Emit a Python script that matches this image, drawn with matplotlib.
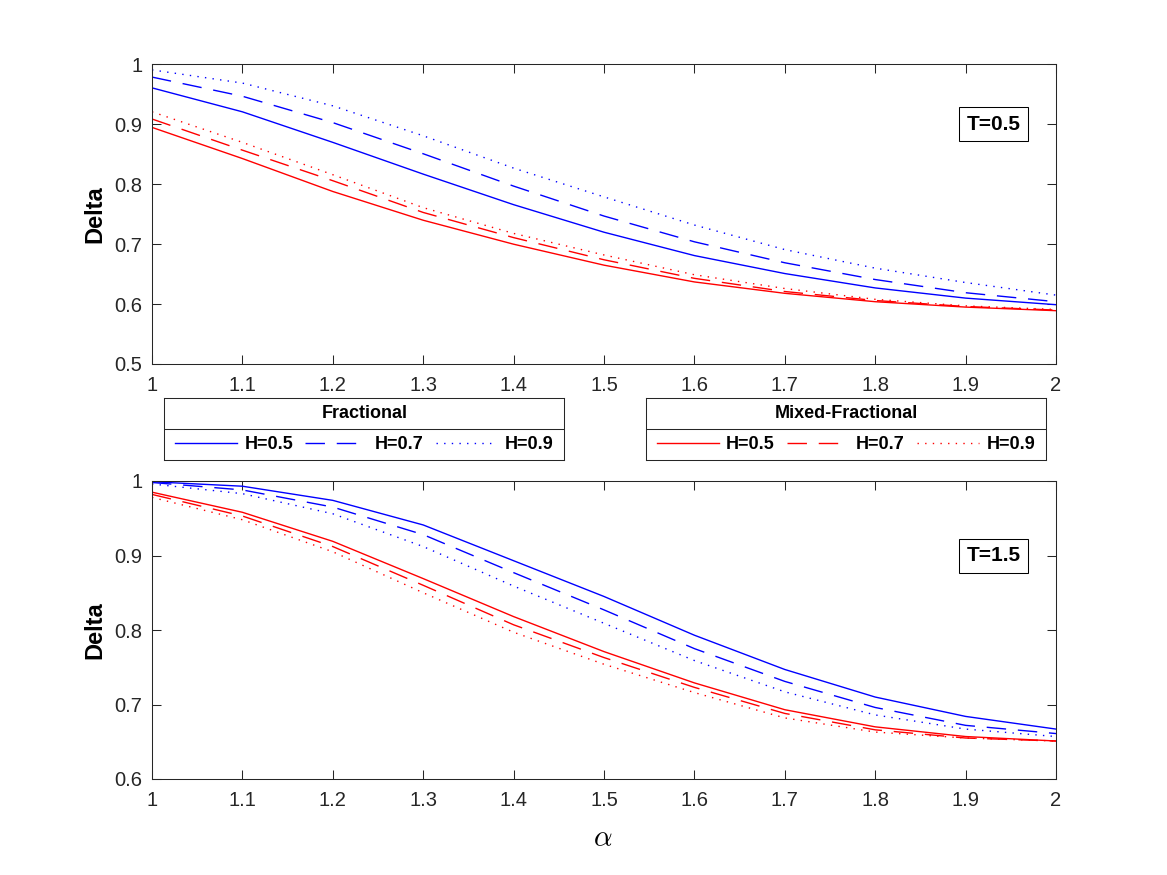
import numpy as np
import matplotlib
matplotlib.use("Agg")
import matplotlib.pyplot as plt
from matplotlib.lines import Line2D

plt.rcParams['font.family'] = ['Liberation Sans', 'DejaVu Sans']
plt.rcParams['mathtext.fontset'] = 'cm'

# ---------------- data ----------------
alpha = [1.0, 1.1, 1.2, 1.3, 1.4, 1.5, 1.6, 1.7, 1.8, 1.9, 2.0]

# T = 0.5
frac_T05_H05 = [0.961, 0.921, 0.870, 0.817, 0.766, 0.720, 0.681, 0.651, 0.627, 0.610, 0.599]
frac_T05_H07 = [0.979, 0.947, 0.903, 0.851, 0.797, 0.747, 0.704, 0.669, 0.641, 0.619, 0.604]
frac_T05_H09 = [0.991, 0.969, 0.931, 0.881, 0.827, 0.779, 0.732, 0.691, 0.660, 0.636, 0.615]
mixed_T05_H05 = [0.895, 0.843, 0.788, 0.740, 0.700, 0.665, 0.637, 0.618, 0.604, 0.595, 0.589]
mixed_T05_H07 = [0.909, 0.857, 0.806, 0.753, 0.711, 0.674, 0.643, 0.621, 0.606, 0.596, 0.590]
mixed_T05_H09 = [0.921, 0.870, 0.816, 0.761, 0.718, 0.682, 0.649, 0.626, 0.608, 0.597, 0.591]

# T = 1.5
frac_T15_H05 = [0.999, 0.993, 0.974, 0.941, 0.893, 0.845, 0.793, 0.747, 0.710, 0.684, 0.667]
frac_T15_H07 = [0.998, 0.988, 0.965, 0.928, 0.877, 0.827, 0.775, 0.731, 0.696, 0.672, 0.661]
frac_T15_H09 = [0.996, 0.983, 0.956, 0.912, 0.859, 0.809, 0.759, 0.717, 0.686, 0.667, 0.657]
mixed_T15_H05 = [0.985, 0.958, 0.919, 0.869, 0.818, 0.771, 0.729, 0.693, 0.670, 0.657, 0.651]
mixed_T15_H07 = [0.982, 0.953, 0.912, 0.860, 0.807, 0.763, 0.723, 0.688, 0.666, 0.655, 0.651]
mixed_T15_H09 = [0.978, 0.948, 0.905, 0.850, 0.797, 0.754, 0.716, 0.682, 0.663, 0.655, 0.651]

h_labels = ['H=0.5', 'H=0.7', 'H=0.9']
group_titles = ['Fractional', 'Mixed-Fractional']
panel_labels = ['T=0.5', 'T=1.5']
x_ticks = [1.0, 1.1, 1.2, 1.3, 1.4, 1.5, 1.6, 1.7, 1.8, 1.9, 2.0]
x_ticklabels = ['1', '1.1', '1.2', '1.3', '1.4', '1.5', '1.6', '1.7', '1.8', '1.9', '2']
y_ticks_top = [0.5, 0.6, 0.7, 0.8, 0.9, 1.0]
y_ticklabels_top = ['0.5', '0.6', '0.7', '0.8', '0.9', '1']
y_ticks_bot = [0.6, 0.7, 0.8, 0.9, 1.0]
y_ticklabels_bot = ['0.6', '0.7', '0.8', '0.9', '1']

# ---------------- styles ----------------
W, H = 1167, 875
fig = plt.figure(figsize=(W / 100, H / 100), dpi=100)

AX_COL = (0.15, 0.15, 0.15)
styles = ['-', (0, (14, 8.5)), (0, (1.0, 4.5))]
LW = 1.0


def px_axes(l, t, r, b):
    return fig.add_axes([l / W, 1 - b / H, (r - l) / W, (b - t) / H])


def style_axes(ax, yt, ytl, ylim):
    ax.set_xlim(1, 2)
    ax.set_ylim(*ylim)
    ax.set_xticks(x_ticks)
    ax.set_xticklabels(x_ticklabels)
    ax.set_yticks(yt)
    ax.set_yticklabels(ytl)
    ax.tick_params(axis='both', direction='in', length=6.5, width=0.75,
                   colors=AX_COL, labelsize=14.5, top=True, right=True)
    ax.tick_params(axis='x', pad=8.5)
    ax.tick_params(axis='y', pad=7)
    for s in ax.spines.values():
        s.set_color(AX_COL)
        s.set_linewidth(0.75)
    ax.set_ylabel('Delta', fontsize=17, fontweight='bold', va='center')
    ax.yaxis.set_label_coords(-0.063, 0.5)


ax1 = px_axes(152, 64.5, 1056, 364)
ax2 = px_axes(152, 481, 1056, 779)

top_frac = [frac_T05_H05, frac_T05_H07, frac_T05_H09]
top_mix = [mixed_T05_H05, mixed_T05_H07, mixed_T05_H09]
bot_frac = [frac_T15_H05, frac_T15_H07, frac_T15_H09]
bot_mix = [mixed_T15_H05, mixed_T15_H07, mixed_T15_H09]

for i in range(3):
    ax1.plot(alpha, top_frac[i], color='blue', lw=LW, linestyle=styles[i])
    ax1.plot(alpha, top_mix[i], color='red', lw=LW, linestyle=styles[i])
    ax2.plot(alpha, bot_frac[i], color='blue', lw=LW, linestyle=styles[i])
    ax2.plot(alpha, bot_mix[i], color='red', lw=LW, linestyle=styles[i])

style_axes(ax1, y_ticks_top, y_ticklabels_top, (0.5, 1.0))
style_axes(ax2, y_ticks_bot, y_ticklabels_bot, (0.6, 1.0))

bbox_kw = dict(boxstyle='square,pad=0.36', fc='white', ec='black', lw=0.75)
ax1.text(0.931, 0.801, panel_labels[0], transform=ax1.transAxes, ha='center',
         va='center', fontsize=15, fontweight='bold', bbox=bbox_kw)
ax2.text(0.931, 0.75, panel_labels[1], transform=ax2.transAxes, ha='center',
         va='center', fontsize=15, fontweight='bold', bbox=bbox_kw)

fig.text(603 / W, 1 - 838 / H, r'$\alpha$', fontsize=21, ha='center', va='center')


# ---------------- legends ----------------
def legend_box(l, r, title, color):
    lax = px_axes(l, 398, r, 460.5)
    lax.set_xticks([])
    lax.set_yticks([])
    lax.set_xlim(0, 1)
    lax.set_ylim(0, 1)
    for s in lax.spines.values():
        s.set_color(AX_COL)
        s.set_linewidth(0.75)
    lax.axhline(0.505, color=AX_COL, lw=0.75)
    lax.text(0.5, 0.745, title, ha='center', va='center', fontsize=13,
             fontweight='bold', transform=lax.transAxes)
    hs = [Line2D([], [], color=color, lw=LW, linestyle=st) for st in styles]
    lax.legend(hs, h_labels, ncol=3, loc='center', bbox_to_anchor=(0.5, 0.25),
               frameon=False, handlelength=3.43, handletextpad=0.4,
               columnspacing=0.68, borderaxespad=0, borderpad=0,
               prop={'weight': 'bold', 'size': 13})


legend_box(164.3, 564.3, group_titles[0], 'blue')
legend_box(646, 1046, group_titles[1], 'red')

fig.savefig('out.png', dpi=100)
